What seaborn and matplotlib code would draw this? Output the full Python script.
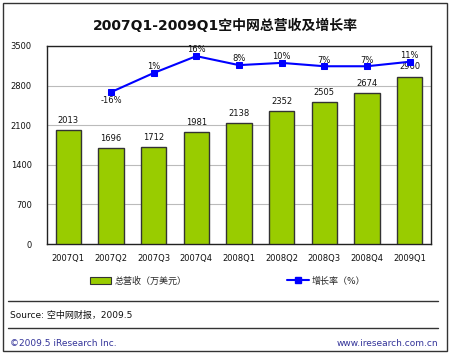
import numpy as np
import pandas as pd
import matplotlib
matplotlib.use('Agg')
import matplotlib.pyplot as plt
import seaborn as sns
from matplotlib.lines import Line2D
from matplotlib.patches import Patch

# --- DATA ---
quarters = ['2007Q1', '2007Q2', '2007Q3', '2007Q4', '2008Q1', '2008Q2', '2008Q3', '2008Q4', '2009Q1']
revenue = [2013, 1696, 1712, 1981, 2138, 2352, 2505, 2674, 2960]
growth_quarters = quarters[1:]
growth = [-16, 1, 16, 8, 10, 7, 7, 11]
y_ticks = [0, 700, 1400, 2100, 2800, 3500]

title = '2007Q1-2009Q1空中网总营收及增长率'
bar_label = '总营收（万美元）'
line_label = '增长率（%）'
source = 'Source: 空中网财报，2009.5'
footer_left = '©2009.5 iResearch Inc.'
footer_right = 'www.iresearch.com.cn'

# Colors
COLOR_BAR = '#99CC00'
COLOR_EDGE = '#333333'
COLOR_LINE = '#0000FF'

sns.set_style('white')
plt.rcParams['font.family'] = ['DejaVu Sans', 'Noto Sans CJK SC']

df = pd.DataFrame({'Quarter': quarters, 'Revenue': revenue})

fig = plt.figure(figsize=(4.5, 3.54), dpi=100)
ax = fig.add_axes([47 / 450, 1 - 244 / 354, 384 / 450, 198 / 354])

sns.barplot(data=df, x='Quarter', y='Revenue', color=COLOR_BAR, width=0.6,
            edgecolor=COLOR_EDGE, linewidth=1.0, saturation=1, ax=ax, zorder=3)
ax.set_ylim(0, 3500)
ax.set_yticks(y_ticks)
ax.set_xlim(-0.5, len(quarters) - 0.5)
ax.yaxis.grid(True, color='#BBBBBB', linewidth=0.8, zorder=0)
ax.set_axisbelow(True)
ax.set_xlabel('')
ax.set_ylabel('')
ax.tick_params(axis='both', length=0, labelsize=6, colors='#111111')
ax.tick_params(axis='y', pad=11)
ax.tick_params(axis='x', pad=7)
for s in ax.spines.values():
    s.set_color('#222222')
    s.set_linewidth(1.0)

for i, v in enumerate(revenue):
    ax.text(i, v + 90, str(v), ha='center', va='bottom', fontsize=6, color='#111111')

# growth line on secondary axis
ax2 = ax.twinx()
gx = [quarters.index(q) for q in growth_quarters]
sns.lineplot(x=gx, y=growth, color=COLOR_LINE, marker='s', markersize=4.5,
             markeredgecolor=COLOR_LINE, linewidth=1.5, ax=ax2, zorder=4)
ax2.set_ylim(-151, 25)
ax2.set_xlim(-0.5, len(quarters) - 0.5)
ax2.set_yticks([])
for s in ax2.spines.values():
    s.set_visible(False)
for x, g in zip(gx, growth):
    if g < 0:
        ax2.text(x, g - 3.5, f'{g}%', ha='center', va='top', fontsize=6, color='#111111')
    else:
        ax2.text(x, g + 1.5, f'{g}%', ha='center', va='bottom', fontsize=6, color='#111111')

# title
fig.text(0.5, 1 - 26 / 354, title, ha='center', va='center', fontsize=10,
         fontweight='bold', color='#111111')

# legend
handles = [Patch(facecolor=COLOR_BAR, edgecolor=COLOR_EDGE, linewidth=0.8),
           Line2D([0], [0], color=COLOR_LINE, marker='s', markersize=4, linewidth=1.5)]
fig.legend(handles[:1], [bar_label], loc='center', bbox_to_anchor=(138 / 450, 1 - 281 / 354),
           frameon=False, fontsize=6.5, handlelength=2.4, handleheight=0.7, handletextpad=0.3)
fig.legend(handles[1:], [line_label], loc='center', bbox_to_anchor=(326 / 450, 1 - 281 / 354),
           frameon=False, fontsize=6.5, handlelength=2.4, handletextpad=0.3)

# separators and footer
fig.add_artist(Line2D([8 / 450, 438 / 450], [1 - 301 / 354] * 2, color='#333333', linewidth=1))
fig.add_artist(Line2D([8 / 450, 438 / 450], [1 - 328 / 354] * 2, color='#333333', linewidth=1))
fig.text(10 / 450, 1 - 315 / 354, source, ha='left', va='center', fontsize=6.5, color='#111111')
fig.text(10 / 450, 1 - 343 / 354, footer_left, ha='left', va='center', fontsize=6.5, color='#333399')
fig.text(438 / 450, 1 - 343 / 354, footer_right, ha='right', va='center', fontsize=6.5, color='#333399')

# outer border
fig.add_artist(plt.Rectangle((3 / 450, 3 / 354), 444 / 450, 348 / 354, fill=False,
                             edgecolor='#333333', linewidth=1, transform=fig.transFigure))

fig.savefig('out.png', dpi=100)
